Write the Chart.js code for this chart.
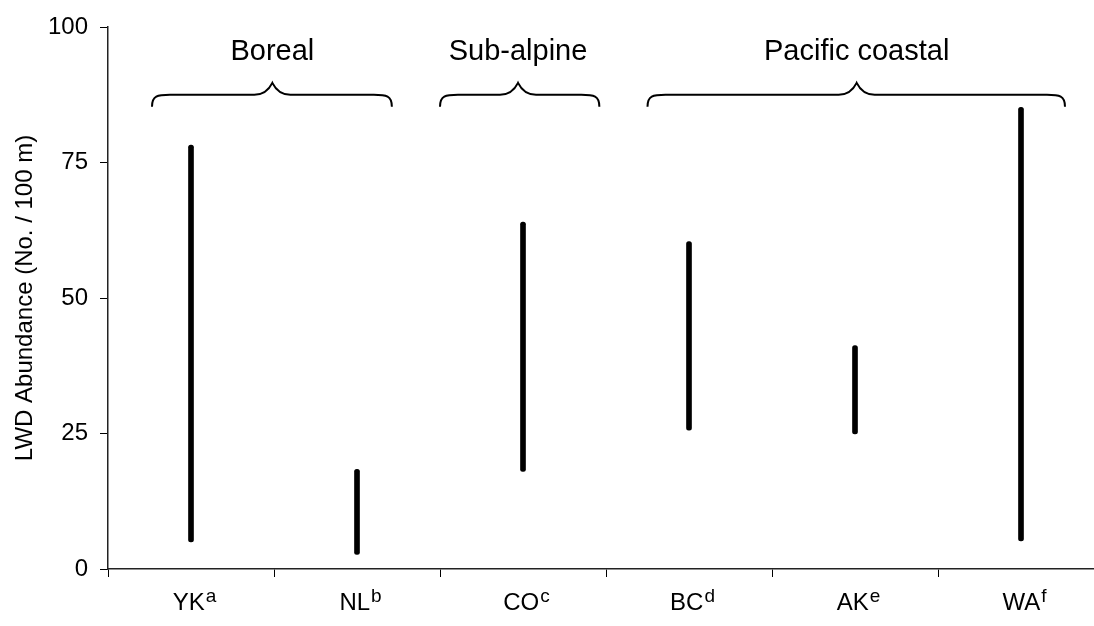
<!DOCTYPE html>
<html>
<head>
<meta charset="utf-8">
<script src="https://cdn.jsdelivr.net/npm/chart.js@4.4.0/dist/chart.umd.min.js"></script>
<style>
  html, body { margin: 0; padding: 0; background: #fff; overflow: hidden; }
  #wrap { position: relative; width: 1112px; height: 626px; }
</style>
</head>
<body>
<div id="wrap"><canvas id="c" width="1112" height="626"></canvas></div>
<script>
// Sites and their reference notes (drawn as superscripts)
const sites = ['YK', 'NL', 'CO', 'BC', 'AK', 'WA'];
const siteNotes = ['a', 'b', 'c', 'd', 'e', 'f'];

// Range of LWD abundance (No. / 100 m) per site
const lowValues  = [5.0, 2.7, 18.0, 25.6, 24.9, 5.2];
const highValues = [78.2, 18.4, 64.0, 60.4, 41.2, 85.2];

// Value axis ticks
const yTicks = [0, 25, 50, 75, 100];

// Forest-type groups, spanned by braces (positions in category units)
const groupNames = ['Boreal', 'Sub-alpine', 'Pacific coastal'];
const groupFrom  = [-0.235, 1.50, 2.75];
const groupTo    = [1.21, 2.46, 5.265];
const groupPeak  = [0.49, 1.97, 4.01];

// Brace levels in value units
const braceTip = 85.3, braceLine = 87.5, bracePeak = 89.7, groupLabelAt = 95.4;

const FONT = "'Liberation Sans', Arial, sans-serif";

const overlay = {
  id: 'overlay',
  afterDraw(chart) {
    const { ctx, scales: { x, y } } = chart;
    ctx.save();
    ctx.fillStyle = '#000';
    ctx.strokeStyle = '#000';

    // Category labels with superscript notes
    const baseY = x.top + 41;
    sites.forEach((s, i) => {
      const cx = x.getPixelForValue(i);
      ctx.font = `24px ${FONT}`;
      const w1 = ctx.measureText(s).width;
      ctx.font = `19px ${FONT}`;
      const w2 = ctx.measureText(siteNotes[i]).width;
      const start = cx - (w1 + w2) / 2 + 3;
      ctx.textAlign = 'left';
      ctx.textBaseline = 'alphabetic';
      ctx.font = `24px ${FONT}`;
      ctx.fillText(s, start, baseY);
      ctx.font = `19px ${FONT}`;
      ctx.fillText(siteNotes[i], start + w1 + 1, baseY - 8);
    });

    // Group braces
    const yT = y.getPixelForValue(braceTip);
    const yL = y.getPixelForValue(braceLine);
    const yP = y.getPixelForValue(bracePeak);
    const r = 18;
    ctx.lineWidth = 2;
    groupNames.forEach((g, i) => {
      const x0 = x.getPixelForValue(groupFrom[i]);
      const x1 = x.getPixelForValue(groupTo[i]);
      const xm = x.getPixelForValue(groupPeak[i]);
      ctx.beginPath();
      ctx.moveTo(x0, yT);
      ctx.bezierCurveTo(x0, yL + 1, x0 + r * 0.3, yL, x0 + r, yL);
      ctx.lineTo(xm - r, yL);
      ctx.bezierCurveTo(xm - r * 0.4, yL, xm - 2, yP + 4, xm, yP);
      ctx.bezierCurveTo(xm + 2, yP + 4, xm + r * 0.4, yL, xm + r, yL);
      ctx.lineTo(x1 - r, yL);
      ctx.bezierCurveTo(x1 - r * 0.3, yL, x1, yL + 1, x1, yT);
      ctx.stroke();

      ctx.font = `29px ${FONT}`;
      ctx.textAlign = 'center';
      ctx.textBaseline = 'middle';
      ctx.fillText(g, xm, y.getPixelForValue(groupLabelAt));
    });

    // Value axis title
    ctx.translate(25, (y.top + y.bottom) / 2);
    ctx.rotate(-Math.PI / 2);
    ctx.font = `24px ${FONT}`;
    ctx.textAlign = 'center';
    ctx.textBaseline = 'middle';
    ctx.fillText('LWD Abundance (No. / 100 m)', 0, 0);
    ctx.restore();
  }
};

new Chart(document.getElementById('c'), {
  type: 'bar',
  data: {
    labels: sites,
    datasets: [{
      data: sites.map((_, i) => [lowValues[i], highValues[i]]),
      backgroundColor: '#000',
      barThickness: 5,
      borderRadius: 2.5,
      borderSkipped: false
    }]
  },
  options: {
    responsive: false,
    animation: false,
    layout: { padding: { top: 27, right: 8, bottom: 0, left: 0 } },
    plugins: { legend: { display: false }, tooltip: { enabled: false } },
    scales: {
      x: {
        offset: true,
        grid: { offset: true, drawOnChartArea: false, drawTicks: true, tickLength: 8, color: '#000', lineWidth: 1 },
        border: { color: '#222', width: 1.5 },
        ticks: { display: false },
        afterFit: (s) => { s.height = 57; }
      },
      y: {
        min: 0,
        max: 100,
        afterBuildTicks: (s) => { s.ticks = yTicks.map(v => ({ value: v })); },
        grid: { drawOnChartArea: false, drawTicks: true, tickLength: 8, color: '#000', lineWidth: 1 },
        border: { color: '#222', width: 1.5 },
        ticks: { color: '#000', padding: 12, font: { family: FONT, size: 24 } },
        afterFit: (s) => { s.width = 108; }
      }
    }
  },
  plugins: [overlay]
});
</script>
</body>
</html>
